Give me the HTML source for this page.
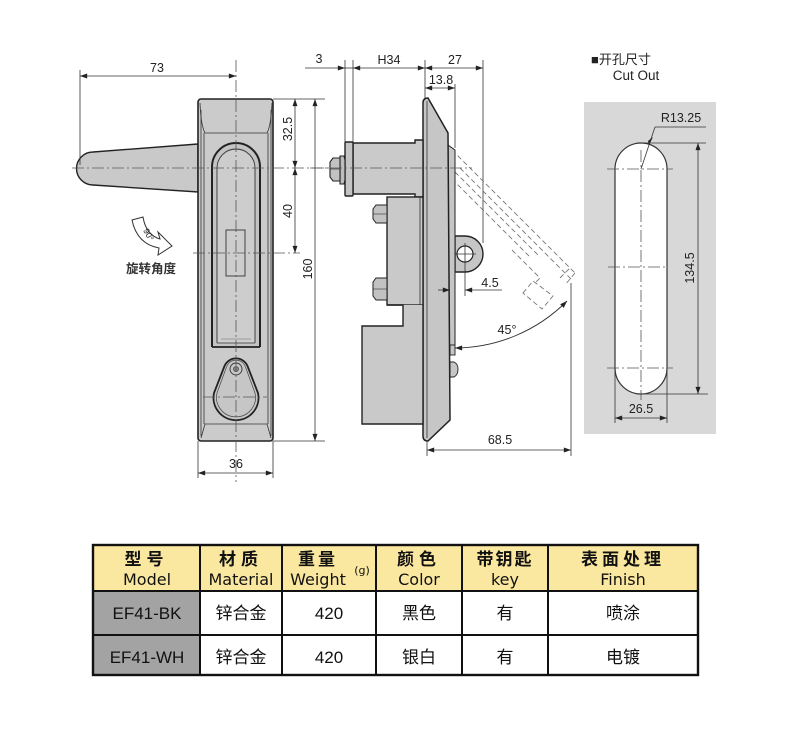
<!DOCTYPE html>
<html><head><meta charset="utf-8">
<style>
html,body{margin:0;padding:0;background:#fff;}
svg{display:block;}
.d{font-family:"Liberation Sans",sans-serif;font-size:12.5px;fill:#222;}
.c{stroke:#555;stroke-width:0.8;stroke-dasharray:12 3 2 3;fill:none;}
.t{stroke:#333;stroke-width:0.8;fill:none;}
.o{stroke:#222;stroke-width:1.4;}
.dash{stroke:#777;stroke-width:0.9;stroke-dasharray:5 3;fill:none;}
.cj{font-family:"Liberation Sans","Noto Sans CJK SC",sans-serif;}
.hd{font-family:"Liberation Sans","Noto Sans CJK SC",sans-serif;font-size:17px;font-weight:bold;fill:#111;}
.he{font-family:"DejaVu Sans",sans-serif;font-size:16px;fill:#111;}
.bd{font-family:"Liberation Sans","Noto Sans CJK SC",sans-serif;font-size:17px;fill:#111;}
</style></head>
<body>
<svg width="790" height="744" viewBox="0 0 790 744" xmlns="http://www.w3.org/2000/svg">
<defs>
<marker id="a" viewBox="0 0 10 7" refX="10" refY="3.5" markerWidth="8" markerHeight="5" markerUnits="userSpaceOnUse" orient="auto-start-reverse">
<path d="M0,0 L10,3.5 L0,7 z" fill="#222"/></marker>
</defs>
<rect width="790" height="744" fill="#fff"/>

<!-- ============ LEFT VIEW ============ -->
<!-- lever -->
<path d="M198,144 L93,152 A16.5,16.5 0 0 0 93,185 L198,192 Z" fill="#c9c9c9" class="o"/>
<!-- body -->
<rect x="198" y="99" width="75" height="342" rx="3" fill="#cbcbcb" stroke="#222" stroke-width="1.6"/>
<path d="M200,103 Q201,126 205,133 L267,133 Q271,126 272,103" class="t"/>
<line x1="204" y1="133" x2="204" y2="424" class="t"/>
<line x1="268" y1="133" x2="268" y2="424" class="t"/>
<line x1="201" y1="110" x2="201" y2="436" class="t" stroke-width="0.5"/>
<line x1="271" y1="110" x2="271" y2="436" class="t" stroke-width="0.5"/>
<path d="M201,438 L205,424 L267,424 L271,438" class="t"/>
<!-- slot -->
<path d="M212,347 L212,167 A24,24 0 0 1 260,167 L260,347" fill="#c4c4c4" stroke="#222" stroke-width="2"/>
<path d="M217,343 L217,168 A19,19 0 0 1 255,168 L255,343" fill="#cdcdcd" stroke="#333" stroke-width="0.9"/>
<line x1="212" y1="347" x2="260" y2="347" stroke="#222" stroke-width="1.8"/>
<line x1="217" y1="343" x2="255" y2="343" stroke="#333" stroke-width="0.8"/>
<line x1="221" y1="339" x2="251" y2="339" stroke="#666" stroke-width="0.5"/>
<rect x="226" y="230" width="19" height="46" fill="none" stroke="#333" stroke-width="0.9"/>
<!-- key teardrop -->
<path d="M224.5,366 L214,393 A22.5,22.5 0 1 0 258,393 L247.5,366 A12.5,12.5 0 0 0 224.5,366 Z" fill="#c6c6c6" stroke="#222" stroke-width="1.8"/>
<path d="M226.5,367 L217,393 A19.5,19.5 0 1 0 255,393 L245.5,367 A10,10 0 0 0 226.5,367 Z" fill="none" stroke="#444" stroke-width="0.7"/>
<circle cx="236" cy="369" r="6" fill="none" stroke="#333" stroke-width="0.9"/>
<circle cx="236" cy="369" r="2.5" fill="#888" stroke="#333" stroke-width="0.6"/>
<line x1="203" y1="397" x2="267" y2="397" class="c"/>
<!-- centerlines -->
<line x1="236" y1="60" x2="236" y2="482" class="c"/>
<line x1="72" y1="168" x2="340" y2="168" class="c"/>
<line x1="193" y1="253" x2="300" y2="253" class="c"/>
<!-- dims -->
<line x1="80" y1="70" x2="80" y2="165" class="t"/>
<line x1="80" y1="76" x2="236" y2="76" class="t" marker-start="url(#a)" marker-end="url(#a)"/>
<text x="157" y="72" text-anchor="middle" class="d">73</text>
<line x1="273" y1="99" x2="325" y2="99" class="t"/>
<line x1="273" y1="441" x2="325" y2="441" class="t"/>
<line x1="295" y1="99" x2="295" y2="168" class="t" marker-start="url(#a)" marker-end="url(#a)"/>
<line x1="295" y1="168" x2="295" y2="253" class="t" marker-start="url(#a)" marker-end="url(#a)"/>
<line x1="315" y1="99" x2="315" y2="441" class="t" marker-start="url(#a)" marker-end="url(#a)"/>
<text transform="translate(292,129) rotate(-90)" text-anchor="middle" class="d">32.5</text>
<text transform="translate(292,211) rotate(-90)" text-anchor="middle" class="d">40</text>
<text transform="translate(312,269) rotate(-90)" text-anchor="middle" class="d">160</text>
<line x1="198" y1="441" x2="198" y2="478" class="t"/>
<line x1="273" y1="441" x2="273" y2="478" class="t"/>
<line x1="198" y1="473" x2="273" y2="473" class="t" marker-start="url(#a)" marker-end="url(#a)"/>
<text x="236" y="468" text-anchor="middle" class="d">36</text>
<!-- rotation icon -->
<path d="M132,220 L143,217 Q146,235 160,239 L158,232 L172,246 L158,255 L159,248 Q137,244 132,220 Z" fill="#fff" stroke="#333" stroke-width="1"/>
<text transform="translate(146,236) rotate(62)" text-anchor="middle" font-family="Liberation Sans,sans-serif" font-size="8.5" fill="#222">90°</text>
<text x="151" y="273" text-anchor="middle" class="cj" font-size="12.5" font-weight="bold" fill="#333">旋转角度</text>

<!-- ============ MIDDLE VIEW ============ -->
<!-- top dims -->
<line x1="305" y1="68" x2="345" y2="68" class="t" marker-end="url(#a)"/>
<line x1="345" y1="68" x2="353" y2="68" class="t"/>
<line x1="353" y1="68" x2="425" y2="68" class="t" marker-start="url(#a)" marker-end="url(#a)"/>
<line x1="425" y1="68" x2="483" y2="68" class="t" marker-start="url(#a)" marker-end="url(#a)"/>
<line x1="425" y1="88" x2="455" y2="88" class="t" marker-start="url(#a)" marker-end="url(#a)"/>
<line x1="345" y1="60" x2="345" y2="143" class="t"/>
<line x1="353" y1="60" x2="353" y2="143" class="t"/>
<line x1="425" y1="60" x2="425" y2="99" class="t"/>
<line x1="455" y1="84" x2="455" y2="148" class="t"/>
<line x1="483" y1="60" x2="483" y2="243" class="t"/>
<text x="319" y="63" text-anchor="middle" class="d">3</text>
<text x="389" y="64" text-anchor="middle" class="d">H34</text>
<text x="455" y="64" text-anchor="middle" class="d">27</text>
<text x="441" y="84" text-anchor="middle" class="d">13.8</text>
<!-- dashed rotated handle -->
<line x1="452" y1="150" x2="575" y2="273" class="dash"/>
<line x1="460" y1="168" x2="572" y2="280" class="dash"/>
<line x1="455" y1="172" x2="540" y2="257" class="dash"/>
<line x1="452" y1="179" x2="530" y2="257" class="dash"/>
<path d="M512,250 L540,278 L535,283" class="dash"/>
<path d="M523,293 L533,281 L553,296 L542,309 Z" class="dash"/>
<path d="M560,278 L570,268 M575,273 L565,285" class="dash"/>
<!-- lug -->
<path d="M455,236 L465,236 A18,18 0 0 1 465,272 L455,272 Z" fill="#c6c6c6" class="o"/>
<circle cx="465" cy="254" r="8" fill="#fff" stroke="#222" stroke-width="1.2"/>
<line x1="455" y1="254" x2="476" y2="254" class="t"/>
<line x1="465" y1="243" x2="465" y2="296" class="t"/>
<!-- right strip -->
<path d="M448,145 L455,150 L455,345 L448,345 Z" fill="#c6c6c6" stroke="#222" stroke-width="1"/>
<rect x="450" y="345" width="5" height="10" fill="#c6c6c6" stroke="#222" stroke-width="0.9"/>
<path d="M450,362 L454,362 Q458,364 458,369 Q458,375 454,377 L450,377 Z" fill="#c6c6c6" stroke="#222" stroke-width="0.9"/>
<!-- plate -->
<path d="M423,103 Q423,98 428,98 L448,133 L450,420 L428,441 Q423,441 423,436 Z" fill="#c6c6c6" stroke="#222" stroke-width="1.5"/>
<line x1="427" y1="101" x2="427" y2="438" class="t"/>
<!-- cylinder -->
<path d="M353,143 L415,143 L415,140 L423,140 L423,197 L415,197 L415,194 L353,194 Z" fill="#cacaca" class="o"/>
<rect x="345" y="142" width="8" height="54" rx="1" fill="#c4c4c4" class="o"/>
<path d="M340,156 L344,156 L345,160 L345,180 L344,184 L340,184 Z" fill="#bdbdbd" stroke="#222" stroke-width="1.1"/>
<path d="M333,158 L340,158 L340,181 L333,181 L330,177 L330,162 Z" fill="#c2c2c2" stroke="#222" stroke-width="1.1"/>
<line x1="330" y1="169" x2="340" y2="169" stroke="#333" stroke-width="0.7"/>
<!-- cam box -->
<rect x="387" y="197" width="36" height="108" fill="#c9c9c9" class="o"/>
<line x1="420" y1="197" x2="420" y2="305" class="t"/>
<path d="M387,305 L403,305 L403,326 L362,326 L362,424 L423,424 L423,305" fill="#c9c9c9" class="o"/>
<!-- bolts -->
<path d="M376,205 L387,205 L387,223 L376,223 L373,219 L373,209 Z" fill="#c2c2c2" stroke="#222" stroke-width="1"/>
<line x1="373" y1="214" x2="387" y2="214" stroke="#333" stroke-width="0.6"/>
<path d="M376,278 L387,278 L387,300 L376,300 L373,296 L373,282 Z" fill="#c2c2c2" stroke="#222" stroke-width="1"/>
<line x1="373" y1="289" x2="387" y2="289" stroke="#333" stroke-width="0.6"/>
<!-- centerline -->
<line x1="310" y1="168" x2="472" y2="168" class="c"/>
<!-- 4.5 -->
<line x1="438" y1="290" x2="450" y2="290" class="t" marker-end="url(#a)"/>
<line x1="502" y1="290" x2="465" y2="290" class="t" marker-end="url(#a)"/>
<text x="490" y="287" text-anchor="middle" class="d">4.5</text>
<!-- 45 arc -->
<path d="M455,348 A159,159 0 0 0 567,301" fill="none" stroke="#333" stroke-width="0.9" marker-start="url(#a)" marker-end="url(#a)"/>
<text x="507" y="334" text-anchor="middle" class="d">45°</text>
<!-- 68.5 -->
<line x1="571" y1="283" x2="571" y2="456" class="t"/>
<line x1="427" y1="441" x2="427" y2="456" class="t"/>
<line x1="427" y1="450" x2="571" y2="450" class="t" marker-start="url(#a)" marker-end="url(#a)"/>
<text x="500" y="444" text-anchor="middle" class="d">68.5</text>

<!-- ============ CUT OUT ============ -->
<text x="591" y="64" class="cj" font-size="13" fill="#222">■开孔尺寸</text>
<text x="636" y="80" text-anchor="middle" font-family="Liberation Sans,sans-serif" font-size="13.5" fill="#222">Cut Out</text>
<rect x="584" y="102" width="132" height="332" fill="#d8d8d8"/>
<path d="M615,169 A26,26 0 0 1 667,169 L667,368 A26,26 0 0 1 615,368 Z" fill="#fff" stroke="#333" stroke-width="1.2"/>
<line x1="607" y1="169" x2="673" y2="169" class="c"/>
<line x1="607" y1="368" x2="673" y2="368" class="c"/>
<line x1="608" y1="267" x2="668" y2="267" class="c"/>
<line x1="641" y1="150" x2="641" y2="400" class="c"/>
<line x1="641" y1="169" x2="655" y2="127" class="t"/>
<line x1="655" y1="127" x2="706" y2="127" class="t"/>
<path d="M648,141 L653,137 L649,145 Z" fill="#222"/>
<text x="681" y="122" text-anchor="middle" class="d">R13.25</text>
<line x1="641" y1="143" x2="706" y2="143" class="t"/>
<line x1="641" y1="394" x2="708" y2="394" class="t"/>
<line x1="698" y1="143" x2="698" y2="394" class="t" marker-start="url(#a)" marker-end="url(#a)"/>
<text transform="translate(694,268) rotate(-90)" text-anchor="middle" class="d">134.5</text>
<line x1="615" y1="368" x2="615" y2="423" class="t"/>
<line x1="667" y1="368" x2="667" y2="423" class="t"/>
<line x1="615" y1="418" x2="667" y2="418" class="t" marker-start="url(#a)" marker-end="url(#a)"/>
<text x="641" y="413" text-anchor="middle" class="d">26.5</text>

<!-- ============ TABLE ============ -->
<rect x="93" y="545" width="605" height="46" fill="#fbe8a0"/>
<rect x="93" y="591" width="107" height="84" fill="#a3a3a3"/>
<g stroke="#111" stroke-width="2" fill="none">
<rect x="93" y="545" width="605" height="130" stroke-width="2.4"/>
<line x1="93" y1="591" x2="698" y2="591"/>
<line x1="93" y1="635" x2="698" y2="635"/>
<line x1="200" y1="545" x2="200" y2="675"/>
<line x1="282" y1="545" x2="282" y2="675"/>
<line x1="376" y1="545" x2="376" y2="675"/>
<line x1="462" y1="545" x2="462" y2="675"/>
<line x1="548" y1="545" x2="548" y2="675"/>
</g>
<g text-anchor="middle">
<text x="146.5" y="565" class="hd" letter-spacing="5">型号</text>
<text x="241" y="565" class="hd" letter-spacing="5">材质</text>
<text x="318" y="565" class="hd" letter-spacing="3">重量</text>
<text x="419" y="565" class="hd" letter-spacing="5">颜色</text>
<text x="505" y="565" class="hd" letter-spacing="2">带钥匙</text>
<text x="623" y="565" class="hd" letter-spacing="4">表面处理</text>
<text x="147" y="585" class="he">Model</text>
<text x="241" y="585" class="he">Material</text>
<text x="318" y="585" class="he">Weight</text>
<text x="362" y="574" font-family="DejaVu Sans,sans-serif" font-size="11" fill="#111">(g)</text>
<text x="419" y="585" class="he">Color</text>
<text x="505" y="585" class="he">key</text>
<text x="623" y="585" class="he">Finish</text>
<text x="147" y="619" class="bd">EF41-BK</text>
<text x="147" y="663" class="bd">EF41-WH</text>
<text x="241" y="619" class="bd">锌合金</text>
<text x="241" y="663" class="bd">锌合金</text>
<text x="329" y="619" class="bd">420</text>
<text x="329" y="663" class="bd">420</text>
<text x="419" y="619" class="bd">黑色</text>
<text x="419" y="663" class="bd">银白</text>
<text x="505" y="619" class="bd">有</text>
<text x="505" y="663" class="bd">有</text>
<text x="623" y="619" class="bd">喷涂</text>
<text x="623" y="663" class="bd">电镀</text>
</g>
</svg>
</body></html>
